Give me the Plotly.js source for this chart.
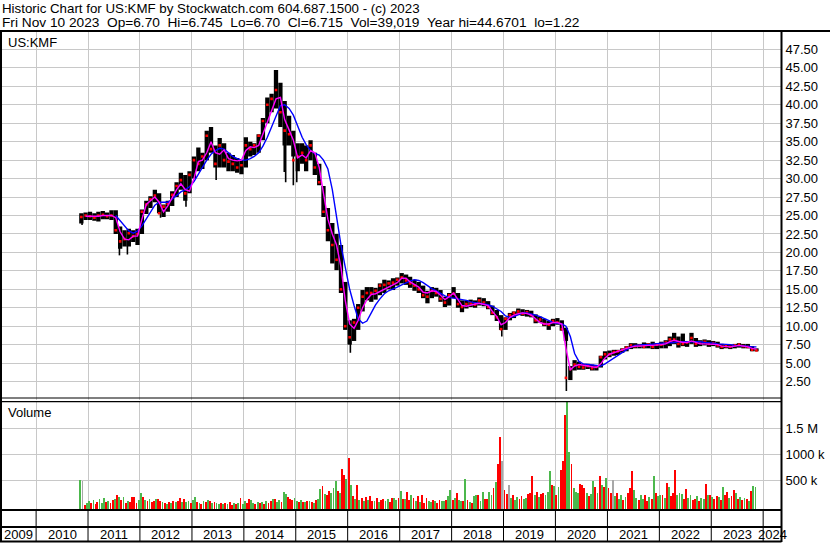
<!DOCTYPE html>
<html>
<head>
<meta charset="utf-8">
<script src="https://cdn.plot.ly/plotly-3.0.1.min.js"></script>
<style>
html,body{margin:0;padding:0;background:#fff;}
#chart{width:830px;height:543px;}
</style>
</head>
<body>
<div id="chart"></div>
<script>
// ---------------- DATA ----------------
const months = [
'2010-11','2010-12',
'2011-01','2011-02','2011-03','2011-04','2011-05','2011-06','2011-07','2011-08','2011-09','2011-10','2011-11','2011-12',
'2012-01','2012-02','2012-03','2012-04','2012-05','2012-06','2012-07','2012-08','2012-09','2012-10','2012-11','2012-12',
'2013-01','2013-02','2013-03','2013-04','2013-05','2013-06','2013-07','2013-08','2013-09','2013-10','2013-11','2013-12',
'2014-01','2014-02','2014-03','2014-04','2014-05','2014-06','2014-07','2014-08','2014-09','2014-10','2014-11','2014-12',
'2015-01','2015-02','2015-03','2015-04','2015-05','2015-06','2015-07','2015-08','2015-09','2015-10','2015-11','2015-12',
'2016-01','2016-02','2016-03','2016-04','2016-05','2016-06','2016-07','2016-08','2016-09','2016-10','2016-11','2016-12',
'2017-01','2017-02','2017-03','2017-04','2017-05','2017-06','2017-07','2017-08','2017-09','2017-10','2017-11','2017-12',
'2018-01','2018-02','2018-03','2018-04','2018-05','2018-06','2018-07','2018-08','2018-09','2018-10','2018-11','2018-12',
'2019-01','2019-02','2019-03','2019-04','2019-05','2019-06','2019-07','2019-08','2019-09','2019-10','2019-11','2019-12',
'2020-01','2020-02','2020-03','2020-04','2020-05','2020-06','2020-07','2020-08','2020-09','2020-10','2020-11','2020-12',
'2021-01','2021-02','2021-03','2021-04','2021-05','2021-06','2021-07','2021-08','2021-09','2021-10','2021-11','2021-12',
'2022-01','2022-02','2022-03','2022-04','2022-05','2022-06','2022-07','2022-08','2022-09','2022-10','2022-11','2022-12',
'2023-01','2023-02','2023-03','2023-04','2023-05','2023-06','2023-07','2023-08','2023-09','2023-10','2023-11'
];
// monthly trading range (bulk of the daily bars)
const high = [
25.3,25.4,
25.5,25.3,25.5,25.6,25.4,25.7,25.7,23.5,23.0,23.2,23.0,23.2,
25.8,27.0,27.6,28.5,28.0,26.5,27.0,28.3,29.5,30.8,30.5,31.0,
33.0,34.2,33.5,36.5,37.0,34.5,35.5,34.8,33.5,33.2,32.8,32.5,
35.6,35.0,34.8,36.0,38.2,41.0,41.5,44.7,43.0,40.5,38.5,36.5,
34.8,34.8,34.5,35.2,33.5,32.0,29.0,26.0,24.0,22.5,21.0,16.0,
10.8,11.0,13.0,14.9,15.3,15.3,15.2,15.8,16.3,16.2,16.5,16.6,
17.2,17.0,16.7,16.3,16.0,15.5,14.8,15.3,15.2,14.9,14.0,14.5,
15.3,14.5,13.5,13.5,13.6,13.5,13.9,13.8,13.4,12.8,12.2,11.5,
11.2,11.8,12.0,12.4,12.3,12.2,12.1,11.6,11.3,11.0,10.7,11.0,
11.1,10.8,9.8,4.6,5.4,5.2,4.9,4.9,4.8,4.7,6.0,6.6,
6.7,6.8,6.8,7.0,7.3,7.7,7.7,7.6,7.8,7.7,7.9,7.7,
7.9,8.1,8.6,9.1,8.6,9.0,8.0,9.1,8.4,8.1,8.2,8.1,
8.0,7.9,7.6,7.5,7.5,7.6,7.7,7.6,7.6,7.3,7.0
];
const low = [
23.9,24.4,
24.4,24.3,24.2,24.5,24.5,24.4,22.5,20.5,20.8,20.8,21.4,21.0,
22.5,25.2,26.0,26.8,25.3,24.8,25.5,26.3,27.5,28.5,27.0,28.0,
30.0,31.0,31.3,32.5,33.5,31.5,31.5,31.5,31.0,31.0,30.8,30.6,
31.5,33.0,33.2,33.5,35.2,37.5,39.0,39.5,37.0,34.5,34.5,33.0,
31.0,32.0,31.0,32.5,30.5,29.1,24.8,21.5,18.5,17.6,14.5,9.5,
7.5,8.0,9.5,12.0,13.5,13.3,13.6,14.2,14.5,15.0,14.9,15.5,
15.8,15.6,15.2,14.8,14.5,13.8,13.1,13.8,14.0,13.3,12.6,12.8,
13.8,12.5,11.9,12.4,12.6,12.5,12.8,12.7,12.3,11.5,10.7,9.5,
9.5,10.8,11.1,11.5,11.4,11.3,11.2,10.4,10.5,10.0,9.5,10.0,
10.2,9.4,8.0,2.7,4.0,4.1,4.1,4.2,4.0,4.0,4.4,5.5,
5.8,6.0,6.1,6.4,6.6,6.9,7.0,7.0,7.0,7.0,6.9,6.9,
7.0,7.0,7.3,7.6,7.1,7.3,7.2,7.6,7.2,7.3,7.4,7.2,
7.3,7.1,6.9,7.0,6.9,7.0,7.1,7.0,7.0,6.6,6.6
];
const close = [
24.8,25.0,
24.9,24.7,25.0,25.1,24.9,25.0,23.0,21.5,21.8,22.6,22.2,22.5,
25.5,26.5,27.2,27.7,25.3,26.2,26.6,27.8,29.0,29.8,28.0,30.5,
32.5,32.0,33.0,35.8,34.0,32.0,34.5,32.5,32.3,32.0,31.5,31.8,
34.5,34.0,34.5,35.8,37.8,40.0,40.8,42.0,39.0,36.5,36.0,32.5,
33.0,33.5,32.5,34.5,31.5,29.5,25.5,23.0,21.0,19.0,15.0,10.0,
8.5,10.5,12.5,14.0,14.5,14.5,14.8,15.5,15.6,15.8,15.9,16.3,
16.6,16.2,15.8,15.5,15.0,14.2,14.0,14.8,14.5,13.7,13.2,14.2,
14.4,13.0,12.6,13.0,13.1,12.9,13.5,13.2,12.6,11.8,11.2,9.6,
11.0,11.5,11.8,12.0,11.7,11.9,11.5,10.8,10.9,10.3,10.2,10.7,
10.5,9.6,3.0,4.2,4.8,4.5,4.4,4.6,4.3,4.5,5.8,6.2,
6.2,6.5,6.6,6.8,7.1,7.4,7.3,7.4,7.2,7.5,7.2,7.5,
7.5,7.8,8.2,8.2,7.6,7.6,7.8,8.4,7.6,7.8,7.9,7.6,
7.7,7.4,7.2,7.3,7.2,7.4,7.5,7.3,7.2,6.8,6.715
];
// single-day spikes (thin wicks) outside the monthly bulk
const wickDates = ['2010-11-20','2011-08-10','2011-10-05','2012-05-25','2012-11-20','2013-06-20','2014-10-12','2014-10-22','2014-12-15','2015-01-08','2016-01-20','2018-12-20','2020-03-18'];
const wickLow   = [23.7, 19.6, 19.7, 24.7, 26.2, 29.8, 30.9, 29.5, 29.1, 29.5, 6.4, 8.6, 1.22];
const wickHigh  = [25.0, 22.0, 22.0, 26.0, 28.0, 32.0, 38.0, 36.0, 34.0, 33.0, 9.0, 10.5, 9.6];
const maFast = [
null,24.9,
24.9,24.8,24.9,25.0,25.0,25.0,24.7,22.8,21.8,21.7,22.2,22.2,
24.5,26.5,27.0,27.5,26.8,25.5,26.3,27.5,28.5,29.3,28.5,28.3,
30.0,32.3,32.5,33.5,35.0,33.5,33.3,33.9,32.7,32.5,32.4,32.5,
33.8,34.3,34.2,34.5,36.0,37.5,39.2,40.8,41.0,38.0,36.6,35.2,
32.8,33.2,32.8,33.8,33.5,31.5,28.0,24.5,22.5,21.0,18.0,13.5,
10.3,9.7,10.8,12.5,13.6,14.3,14.4,14.7,15.0,15.3,15.6,15.9,
16.5,16.5,16.0,15.7,15.3,14.6,14.5,14.8,14.7,14.2,13.6,14.0,
14.5,13.6,12.8,12.7,12.9,13.0,13.1,13.0,12.8,12.0,11.3,10.2,
10.5,11.2,11.5,11.7,11.8,11.7,11.5,11.0,10.5,10.3,10.3,10.5,
10.5,10.3,7.0,4.1,4.6,4.8,4.7,4.6,4.5,4.4,4.9,5.7,
6.2,6.4,6.5,6.8,7.0,7.2,7.3,7.3,7.4,7.4,7.4,7.4,
7.5,7.6,7.9,8.1,7.9,7.8,7.8,8.0,7.8,7.6,7.6,7.6,
7.6,7.5,7.3,7.2,7.2,7.3,7.4,7.3,7.2,7.0,6.9
];
const maSlow = [
null,null,
null,null,null,null,null,null,25.0,24.3,23.5,22.9,22.6,22.9,
23.6,24.5,25.4,26.4,26.8,26.8,26.8,27.2,27.7,28.2,28.5,28.9,
29.6,30.6,31.6,32.5,33.3,33.8,34.1,34.0,33.5,33.0,32.7,32.5,
32.5,32.7,33.0,33.5,34.4,35.6,37.0,38.5,39.9,40.0,39.5,38.6,
37.0,35.6,34.6,33.8,33.4,33.2,32.5,31.3,28.5,24.5,21.0,18.0,
15.0,12.8,11.0,10.4,10.7,11.8,12.9,13.7,14.4,14.8,15.0,15.3,
15.6,15.9,16.1,16.3,16.2,15.9,15.5,15.1,14.8,14.4,14.1,13.9,
13.8,13.7,13.6,13.5,13.3,13.2,13.1,13.0,12.9,12.7,12.4,12.0,
11.4,11.2,11.3,11.6,11.8,11.8,11.7,11.5,11.3,11.0,10.7,10.5,
10.4,10.3,10.0,8.6,6.3,5.2,4.9,4.8,4.7,4.6,4.6,4.9,
5.3,5.7,6.1,6.5,6.9,7.2,7.4,7.5,7.5,7.5,7.6,7.6,
7.7,7.7,7.7,7.8,7.9,7.9,8.0,8.0,8.0,7.9,7.8,7.8,
7.7,7.6,7.6,7.5,7.5,7.4,7.4,7.3,7.3,7.2,7.2
];
// volume in thousands, two bars per month (1st half, 2nd half)
const volume = [
560,540,70,110,
150,120,180,100,140,190,120,220,130,160,110,170,200,270,230,180,225,120,150,140,230,230,120,170,
310,230,180,150,185,130,160,185,200,150,140,120,100,130,110,150,130,160,210,140,200,130,150,110,
180,230,140,120,100,150,130,180,160,120,140,110,90,120,100,110,90,130,80,110,100,120,205,90,
150,110,190,180,110,100,130,120,140,100,160,120,150,190,200,140,180,130,320,280,240,200,180,220,
160,140,170,140,130,160,150,130,120,170,200,385,440,280,260,350,300,400,540,350,300,770,650,580,
990,460,250,200,460,180,220,150,240,170,250,150,160,220,140,180,190,150,200,140,205,205,180,220,
350,200,190,320,180,260,220,150,250,140,270,120,210,160,140,170,160,120,180,150,150,180,250,365,
180,220,300,180,160,150,580,170,140,120,250,270,270,160,320,200,200,320,260,400,510,860,1380,920,
365,290,460,220,270,180,230,200,250,190,220,280,300,630,260,330,240,280,300,260,330,730,460,450,
270,430,750,930,1810,2100,1100,860,400,330,300,480,460,400,300,250,280,540,430,300,630,460,430,600,
400,300,550,250,300,200,270,180,230,300,400,740,365,220,180,260,200,270,150,230,200,630,300,250,
270,260,220,500,430,250,300,750,270,300,280,200,385,220,270,180,200,250,150,220,200,480,270,260,
240,200,250,230,180,430,270,330,220,250,365,300,200,240,170,220,190,150,350,440,430
];
// g = up (green), r = down (red), x = unchanged (grey)
const volDirection = [
'gxrg',
'grgrrgggrgrrgrgrgrgrrrrg',
'grgrgrrgrrgrgrgrgrrgrggr',
'ggrgrgrgrgrggrgrgrrgrgrg',
'grrggrgrgrgrrgrggrggrrrg',
'grgrgrgrgrggrgrrgggrgrrg',
'rgrgrgrgrgrrgrgrrggrrggr',
'grgrrgrgrgrrrggrgrrggrgg',
'rgrggrgrgrggrggrrggrgrrx',
'rrxgrggrrggrrrgrgrrgggrg',
'rgrrrggrgggrrrgrggrgrgrg',
'rrxgrggrgrrrggrggrrgrgrg',
'grgrgrrrgggrrggrrgrggrgr',
'grrgrgrrgrrgrgrgrgrgg'
].join('');
const priceTicks = [2.5,5,7.5,10,12.5,15,17.5,20,22.5,25,27.5,30,32.5,35,37.5,40,42.5,45,47.5];
const volTicks = [500000,1000000,1500000];
const volTickText = ['500 k','1000 k','1.5 M'];
const yearLabels = ['2009','2010','2011','2012','2013','2014','2015','2016','2017','2018','2019','2020','2021','2022','2023','2024'];
const header1 = 'Historic Chart for US:KMF by Stockwatch.com 604.687.1500 - (c) 2023';
const header2 = 'Fri Nov 10 2023  Op=6.70  Hi=6.745  Lo=6.70  Cl=6.715  Vol=39,019  Year hi=44.6701  lo=1.22';

// ---------------- BUILD ----------------
const W = 830, H = 543;
const px = p => p / W;
const py = p => 1 - p / H;
const FONT = 'Liberation Sans, Arial, sans-serif';
const xRange = ['2009-04-22', '2024-05-09'];

const midDates = months.map(m => m + '-15');
const segX = [], segY = [];
for (let i = 0; i < months.length; i++) {
  segX.push(midDates[i], midDates[i], null);
  segY.push(low[i], high[i], null);
}
const wX = [], wY = [];
for (let i = 0; i < wickDates.length; i++) {
  wX.push(wickDates[i], wickDates[i], null);
  wY.push(wickLow[i], wickHigh[i], null);
}
const volX = [], volY = [], volC = [];
const colorOf = {g: '#4cb84c', r: '#ff0000', x: '#a8a8a8'};
for (let i = 0; i < volume.length; i++) {
  const m = months[Math.floor(i / 2)];
  volX.push(m + (i % 2 === 0 ? '-08' : '-23'));
  volY.push(volume[i] * 1000);
  volC.push(colorOf[volDirection[i]]);
}

const traces = [
  {type: 'bar', x: volX, y: volY, base: -52000, xaxis: 'x', yaxis: 'y',
   marker: {color: volC, line: {width: 0}}, hoverinfo: 'skip'},
  {type: 'scatter', mode: 'lines', x: segX, y: segY, xaxis: 'x', yaxis: 'y2',
   line: {color: '#000000', width: 4.3}, hoverinfo: 'skip'},
  {type: 'scatter', mode: 'lines', x: wX, y: wY, xaxis: 'x', yaxis: 'y2',
   line: {color: '#000000', width: 1.6}, hoverinfo: 'skip'},
  {type: 'scatter', mode: 'markers', x: midDates, y: close, xaxis: 'x', yaxis: 'y2',
   marker: {color: '#ff0000', size: 2.6, symbol: 'square'}, hoverinfo: 'skip'},
  {type: 'scatter', mode: 'lines', x: midDates, y: maSlow, xaxis: 'x', yaxis: 'y2',
   line: {color: '#0000ff', width: 1.4}, hoverinfo: 'skip'},
  {type: 'scatter', mode: 'lines', x: midDates, y: maFast, xaxis: 'x', yaxis: 'y2',
   line: {color: '#ff00ff', width: 1.4}, hoverinfo: 'skip'}
];

const shapes = [];
const line = (x0, y0, x1, y1, w) => shapes.push({type: 'line', xref: 'paper', yref: 'paper',
  x0: x0, y0: y0, x1: x1, y1: y1, line: {color: '#000000', width: w}});
const RX = 781.5;
line(0, py(31), 1, py(31), 2);              // header separator
line(px(1), py(31), px(1), py(541.5), 2);   // left border
line(px(RX), py(31), px(RX), py(542), 2);   // right border
line(0, py(398), px(RX), py(398), 1.2);     // double line
line(0, py(401.7), px(RX), py(401.7), 1.2);
line(0, py(510), px(RX), py(510), 2);       // bottom of volume panel
line(0, py(527), px(RX), py(527), 2);       // date band middle
line(0, py(541.5), px(RX), py(541.5), 2);   // bottom border
for (let i = 1; i < yearLabels.length; i++) {
  shapes.push({type: 'line', xref: 'x', yref: 'paper', x0: yearLabels[i] + '-01-01', x1: yearLabels[i] + '-01-01',
    y0: py(510), y1: py(541.5), line: {color: '#000000', width: 1}});
}

const annotations = [];
const txt = (t, x, y, size) => annotations.push({text: t, xref: 'paper', yref: 'paper', x: x, y: y,
  xanchor: 'left', yanchor: 'middle', showarrow: false, font: {family: FONT, size: size, color: '#000000'}});
const nb = s => s.replace(/  /g, ' \u00a0');
txt(header1, px(0), py(8.5), 13.3);
txt(nb(header2), px(0), py(22), 13.7);
txt('US:KMF', px(6), py(42.5), 13);
txt('Volume', px(6), py(413), 13);
const t0 = new Date(xRange[0]).getTime(), t1 = new Date(xRange[1]).getTime();
yearLabels.forEach(y => {
  const a = Math.max(new Date(y + '-01-01').getTime(), t0);
  const b = Math.min(new Date((+y + 1) + '-01-01').getTime(), t1);
  annotations.push({text: y, xref: 'x', yref: 'paper', x: new Date((a + b) / 2).toISOString().slice(0, 10),
    y: py(534.5), xanchor: 'center', yanchor: 'middle', showarrow: false,
    font: {family: FONT, size: 13, color: '#000000'}});
});

const layout = {
  width: W, height: H,
  margin: {l: 0, r: 0, t: 0, b: 0, pad: 0},
  paper_bgcolor: '#ffffff', plot_bgcolor: '#ffffff',
  showlegend: false, bargap: 0,
  font: {family: FONT, size: 13, color: '#000000'},
  xaxis: {type: 'date', domain: [0, px(RX)], range: xRange, tick0: '2010-01-01', dtick: 'M12',
    showticklabels: false, ticks: '', showgrid: true, gridcolor: '#c8c8c8', gridwidth: 1,
    zeroline: false, showline: false, anchor: 'y', fixedrange: true},
  yaxis: {domain: [py(510), py(402)], range: [-71000, 2006000], side: 'right', anchor: 'x',
    tickvals: volTicks, ticktext: volTickText, ticks: '', showgrid: true, gridcolor: '#c8c8c8',
    gridwidth: 1, zeroline: false, showline: false, fixedrange: true,
    tickfont: {family: FONT, size: 13, color: '#000000'}, ticklabelstandoff: 3},
  yaxis2: {domain: [py(400), py(31)], range: [0, 50], side: 'right', anchor: 'x',
    tickvals: priceTicks, ticktext: priceTicks.map(v => v.toFixed(2)), ticks: '', showgrid: true,
    gridcolor: '#c8c8c8', gridwidth: 1, zeroline: false, showline: false, fixedrange: true,
    tickfont: {family: FONT, size: 13, color: '#000000'}, ticklabelstandoff: 3},
  shapes: shapes,
  annotations: annotations
};

Plotly.newPlot('chart', traces, layout, {displayModeBar: false, staticPlot: true});
</script>
</body>
</html>
